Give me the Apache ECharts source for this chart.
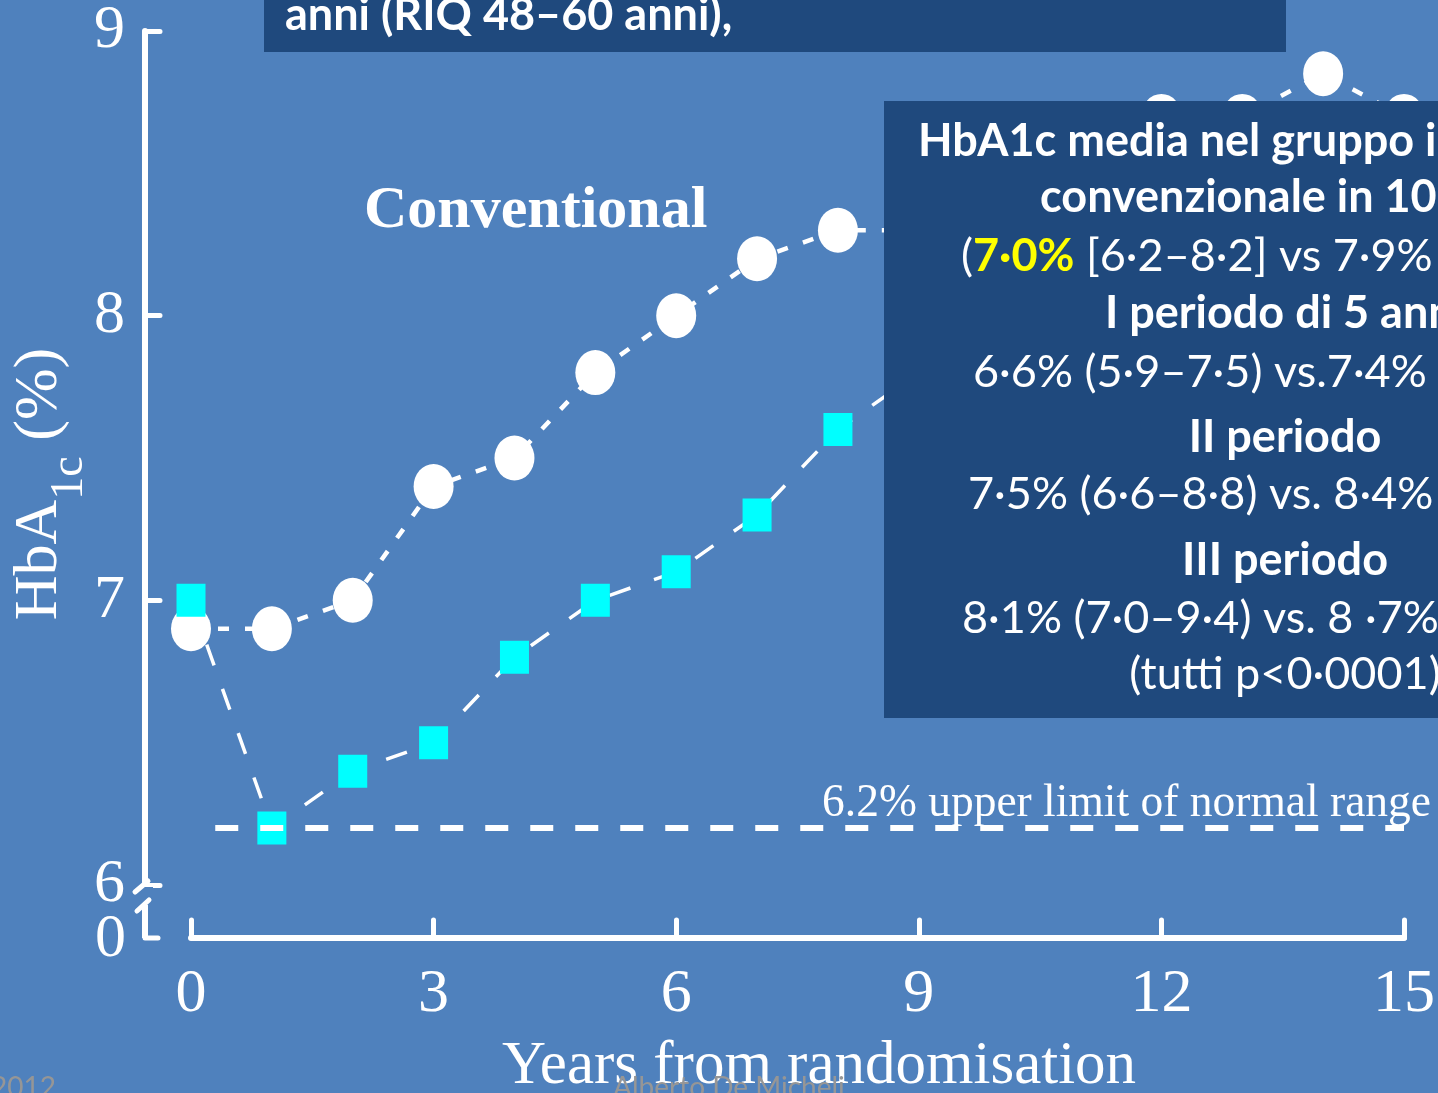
<!DOCTYPE html>
<html>
<head>
<meta charset="utf-8">
<script src="https://cdn.jsdelivr.net/npm/echarts@6/dist/echarts.min.js"></script>
<style>
  html, body { margin: 0; padding: 0; background: #4f81bd; overflow: hidden; }
  #chart { width: 1438px; height: 1093px; }
</style>
</head>
<body>
<div id="chart"></div>
<script>
// ---- data ----
const years = [0, 1, 2, 3, 4, 5, 6, 7, 8, 9, 10, 11, 12, 13, 14, 15];
const conventional = [6.9, 6.9, 7.0, 7.4, 7.5, 7.8, 8.0, 8.2, 8.3, 8.3, 8.5, 8.6, 8.7, 8.7, 8.85, 8.7];
const intensive = [7.0, 6.2, 6.4, 6.5, 6.8, 7.0, 7.1, 7.3, 7.6, 7.8, 7.9, 8.0, 8.0, 8.1, 8.1, 8.1];
const normalUpperLimit = 6.2;
const normalLineSpan = [0.3, 15];
const xTickValues = [0, 3, 6, 9, 12, 15];
const yTickValues = [6, 7, 8, 9];
const yBreakLabel = '0';

const xAxisTitle = 'Years from randomisation';
const seriesLabel = 'Conventional';
const limitLabel = '6.2% upper limit of normal range';
const topBoxText = 'anni (RIQ 48–60 anni),';
const credits = ['2012', 'Alberto De Micheli'];

// ---- styling ----
const BG = '#4f81bd';
const BOX = '#1f497d';
const SERIF = "'Liberation Serif', 'Times New Roman', serif";
const SANS = "Lato, 'Open Sans', sans-serif";
const Y_OFFSET = 46;
const X_OFFSET = 53;

const chart = echarts.init(document.getElementById('chart'), null, { renderer: 'canvas' });

const option = {
  backgroundColor: BG,
  animation: false,
  grid: { left: 191, right: 32, top: 30, bottom: 208 },
  xAxis: {
    type: 'value',
    min: xTickValues[0],
    max: xTickValues[xTickValues.length - 1],
    interval: xTickValues[1] - xTickValues[0],
    offset: X_OFFSET,
    axisLine: { show: true, onZero: false, lineStyle: { color: '#fff', width: 6, cap: 'round' } },
    axisTick: { show: true, inside: true, length: 18, lineStyle: { color: '#fff', width: 5, cap: 'round' } },
    axisLabel: { color: '#fff', fontFamily: SERIF, fontSize: 62, margin: 26 },
    splitLine: { show: false }
  },
  yAxis: {
    type: 'value',
    min: yTickValues[0],
    max: yTickValues[yTickValues.length - 1],
    interval: yTickValues[1] - yTickValues[0],
    offset: Y_OFFSET,
    axisLine: { show: true, onZero: false, lineStyle: { color: '#fff', width: 6, cap: 'round' } },
    axisTick: { show: true, inside: true, length: 15, lineStyle: { color: '#fff', width: 5, cap: 'round' } },
    axisLabel: { color: '#fff', fontFamily: SERIF, fontSize: 62, margin: 20 },
    splitLine: { show: false }
  },
  series: [
    {
      name: 'Conventional',
      type: 'line',
      data: years.map((x, i) => [x, conventional[i]]),
      symbol: 'circle',
      symbolSize: [40, 45],
      itemStyle: { color: '#ffffff' },
      lineStyle: { color: '#ffffff', width: 4.5, type: [11, 16] },
      z: 2,
      markLine: {
        silent: true,
        symbol: ['none', 'none'],
        label: { show: false },
        lineStyle: { color: '#ffffff', width: 6, type: [23, 22] },
        data: [[
          { coord: [normalLineSpan[0], normalUpperLimit] },
          { coord: [normalLineSpan[1], normalUpperLimit] }
        ]]
      }
    },
    {
      name: 'Intensive',
      type: 'line',
      data: years.map((x, i) => [x, intensive[i]]),
      symbol: 'rect',
      symbolSize: [29, 33],
      itemStyle: { color: '#00ffff' },
      lineStyle: { color: '#ffffff', width: 3.5, type: [22, 25] },
      z: 3
    }
  ]
};

chart.setOption(option);

// text helper: y is the alphabetic baseline
function txt(text, x, baseline, size, opts) {
  opts = opts || {};
  const k = opts.family === SANS ? 0.33 : 0.34;
  return {
    type: 'text',
    x: x,
    y: baseline - k * size,
    z: opts.z || 110,
    silent: true,
    style: {
      text: text,
      fill: opts.color || '#ffffff',
      fontSize: size,
      fontFamily: opts.family || SERIF,
      fontWeight: opts.weight || 'normal',
      align: opts.align || 'left',
      textAlign: opts.align || 'left',
      verticalAlign: 'middle',
      textVerticalAlign: 'middle',
      rich: opts.rich
    }
  };
}

const origin = chart.convertToPixel({ gridIndex: 0 }, [xTickValues[0], yTickValues[0]]);
const axisX = origin[0] - Y_OFFSET;
const y6 = origin[1];
const yBase = y6 + X_OFFSET;
const stroke = { stroke: '#ffffff', lineWidth: 5, lineCap: 'round' };

const elements = [
  // axis break marks and the stub down to zero
  { type: 'rect', z: 8, silent: true, shape: { x: axisX - 8, y: y6 + 2, width: 16, height: 20 }, style: { fill: BG } },
  { type: 'line', z: 9, silent: true, shape: { x1: axisX - 10, y1: y6 + 7, x2: axisX + 3, y2: y6 - 4 }, style: stroke },
  { type: 'line', z: 9, silent: true, shape: { x1: axisX - 8, y1: y6 + 26, x2: axisX + 4, y2: y6 + 15 }, style: stroke },
  { type: 'line', z: 9, silent: true, shape: { x1: axisX, y1: y6 + 20, x2: axisX, y2: yBase }, style: { stroke: '#ffffff', lineWidth: 6 } },
  { type: 'line', z: 9, silent: true, shape: { x1: axisX, y1: yBase, x2: axisX + 13, y2: yBase }, style: { stroke: '#ffffff', lineWidth: 5, lineCap: 'round' } },
  txt(yBreakLabel, axisX - 19, yBase + 23, 62, { align: 'right', z: 9 }),

  // axis titles
  {
    type: 'text', x: 40, y: 484, rotation: Math.PI / 2, z: 9, silent: true,
    style: {
      text: '{a|HbA}{s|1c}{a| (%)}',
      fill: '#ffffff',
      align: 'center', textAlign: 'center', verticalAlign: 'middle', textVerticalAlign: 'middle',
      rich: {
        a: { fontFamily: SERIF, fontSize: 62, lineHeight: 62, fill: '#ffffff', verticalAlign: 'top' },
        s: { fontFamily: SERIF, fontSize: 46, lineHeight: 46, fill: '#ffffff', verticalAlign: 'top', padding: [38, 0, 0, 0] }
      }
    }
  },
  txt(xAxisTitle, 819, 1088, 61, { align: 'center', z: 9 }),

  // series name and reference-line caption
  txt(seriesLabel, 364, 232, 60, { weight: 'bold', z: 9 }),
  txt(limitLabel, 822, 820, 45.5, { z: 9 }),

  // credits
  txt(credits[0], -9, 1097, 28, { family: SANS, color: '#969696', z: 9 }),
  txt(credits[1], 613, 1097, 28, { family: SANS, color: '#969696', z: 9 }),

  // top caption box
  { type: 'rect', z: 100, silent: true, shape: { x: 264, y: -10, width: 1022, height: 62 }, style: { fill: BOX } },
  txt(topBoxText, 285, 30, 45, { family: SANS, weight: 'bold' }),

  // summary box on the right
  { type: 'rect', z: 100, silent: true, shape: { x: 884, y: 101, width: 600, height: 617 }, style: { fill: BOX } },
  txt('HbA1c media nel gruppo intensivo vs', 918, 156, 45, { family: SANS, weight: 'bold' }),
  txt('convenzionale in 10 anni', 1040, 212, 45, { family: SANS, weight: 'bold' }),
  txt('{p|(}{y|7·0%}{p| [6·2–8·2] vs 7·9% [6·9–8·8])}', 961, 271, 45, {
    family: SANS,
    rich: {
      p: { fontFamily: SANS, fontSize: 45, fill: '#ffffff' },
      y: { fontFamily: SANS, fontSize: 45, fill: '#ffff00', fontWeight: 'bold' }
    }
  }),
  txt('I periodo di 5 anni', 1285, 328, 45, { family: SANS, weight: 'bold', align: 'center' }),
  txt('6·6% (5·9–7·5) vs.7·4% (6·5–8·4)', 973, 387, 45, { family: SANS }),
  txt('II periodo', 1285, 452, 45, { family: SANS, weight: 'bold', align: 'center' }),
  txt('7·5% (6·6–8·8) vs. 8·4% (7·4–9·6)', 968, 509, 45, { family: SANS }),
  txt('III periodo', 1285, 575, 45, { family: SANS, weight: 'bold', align: 'center' }),
  txt('8·1% (7·0–9·4) vs. 8 ·7% (7·6–10·0)', 962, 633, 45, { family: SANS }),
  txt('(tutti p<0·0001)', 1285, 689, 45, { family: SANS, align: 'center' })
];

chart.setOption({ graphic: { elements: elements } });
</script>
</body>
</html>
